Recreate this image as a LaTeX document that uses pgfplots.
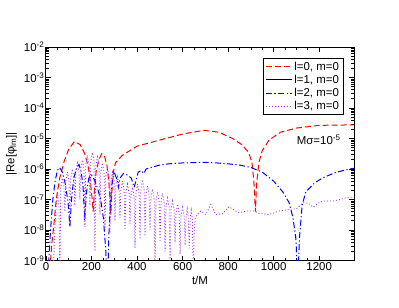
\documentclass[border=0pt]{standalone}
\usepackage{fontspec}
\setmainfont{Liberation Sans}
\usepackage{pgfplots}
\pgfplotsset{compat=1.18}
\definecolor{gviolet}{RGB}{165,45,235}
\begin{document}
\begin{tikzpicture}
\begin{axis}[
  scale only axis, width=308bp, height=213.5bp,
  xmin=0, xmax=1353, ymode=log, ymin=1e-9, ymax=1e-2,
  xtick={0,200,400,600,800,1000,1200}, minor x tick num=3,
  ytick={1e-9,1e-8,1e-7,1e-6,1e-5,1e-4,1e-3,1e-2},
  yticklabels={10\textsuperscript{-9},10\textsuperscript{-8},10\textsuperscript{-7},10\textsuperscript{-6},10\textsuperscript{-5},10\textsuperscript{-4},10\textsuperscript{-3},10\textsuperscript{-2}},
  minor ytick={2e-9,3e-9,4e-9,5e-9,6e-9,7e-9,8e-9,9e-9,
    2e-8,3e-8,4e-8,5e-8,6e-8,7e-8,8e-8,9e-8,
    2e-7,3e-7,4e-7,5e-7,6e-7,7e-7,8e-7,9e-7,
    2e-6,3e-6,4e-6,5e-6,6e-6,7e-6,8e-6,9e-6,
    2e-5,3e-5,4e-5,5e-5,6e-5,7e-5,8e-5,9e-5,
    2e-4,3e-4,4e-4,5e-4,6e-4,7e-4,8e-4,9e-4,
    2e-3,3e-3,4e-3,5e-3,6e-3,7e-3,8e-3,9e-3},
  /pgf/number format/assume math mode=true,
  /pgf/number format/1000 sep={},
  tick align=inside,
  major tick length=5bp, minor tick length=3bp,
  every tick/.style={black, line width=0.7bp},
  axis line style={line width=1bp},
  tick label style={font=\fontsize{11.5}{13}\selectfont},
  yticklabel style={inner xsep=1.5bp},
  xticklabel style={inner ysep=2bp},
  xlabel={t/M}, ylabel={|Re[φ\textsubscript{lm}]|},
  label style={font=\fontsize{11.5}{13}\selectfont},
  xlabel style={at={(axis description cs:0.5,-0.091)}, anchor=center},
  ylabel style={at={(axis description cs:-0.112,0.5)}, anchor=center},
  legend style={at={(rel axis cs:0.9653,0.947)}, anchor=north east,
    draw=black, line width=0.8bp, font=\fontsize{11.5}{13.3}\selectfont,
    inner xsep=2bp, inner ysep=1bp, row sep=-0.5bp},
  legend cell align=left,
  legend image code/.code={\draw[#1] (0bp,0bp) -- (26bp,0bp);},
]
\addplot[red, line width=1bp, dash pattern=on 6bp off 3bp] coordinates {
(15,2.5e-10)(20,1e-9)(25,3.2e-9)(35,1.6e-8)(45,1e-7)(60,5e-7)(80,1.8e-6)(100,4.5e-6)
(125,7.9e-6)(150,6.3e-6)(170,3.2e-6)(185,1.26e-6)(195,4e-7)(203,1e-7)(207,4e-8)(212,1.6e-7)
(220,7.9e-7)(232,2e-6)(245,3.2e-6)(258,2.5e-6)(268,1.26e-6)(276,4e-7)(281,1e-7)(285,3.2e-8)
(289,1.6e-7)(296,7.9e-7)(305,1.6e-6)(335,2.8e-6)(400,5.6e-6)(500,8.9e-6)(600,1.4e-5)
(695,1.86e-5)(760,1.6e-5)(820,1e-5)(860,6.3e-6)(890,3.5e-6)(905,1.6e-6)(913,4e-7)(920,4e-8)
(925,3.2e-7)(935,1.6e-6)(950,4e-6)(980,8.9e-6)(1030,1.6e-5)(1100,2.2e-5)(1200,2.7e-5)(1353,2.8e-5)
};
\addlegendentry{l=0, m=0}
\addlegendimage{black, line width=1bp}
\addlegendentry{l=1, m=0}
\addplot[blue, line width=1bp, dash pattern=on 6bp off 2.5bp on 1.2bp off 2.5bp] coordinates {
(5,3.2e-10)(12,1e-9)(20,1e-8)(30,1e-7)(40,4e-7)(50,8.9e-7)(60,1.12e-6)(72,7.9e-7)(85,3.2e-7)
(97,7.9e-8)(105,1.26e-8)(112,1e-7)(122,5e-7)(135,1.12e-6)(145,1.41e-6)(155,7.9e-7)(163,2.5e-7)
(170,2e-8)(177,1.6e-7)(188,5e-7)(200,6.3e-7)(212,4.5e-7)(225,2.5e-7)(240,1e-7)(252,2.5e-8)
(262,2.5e-9)(270,1.6e-10)(277,1e-8)(285,1.26e-7)(292,5e-7)(302,7.1e-7)(312,4.5e-7)(318,2.5e-7)
(325,5e-7)(340,7.1e-7)(358,6.3e-7)(375,5e-7)(387,2.5e-7)(395,4e-7)(405,7.9e-7)(418,8.9e-7)
(430,7.1e-7)(440,1e-6)(460,1.12e-6)(500,1.35e-6)(550,1.51e-6)(600,1.58e-6)(650,1.62e-6)
(700,1.66e-6)(750,1.58e-6)(800,1.48e-6)(850,1.35e-6)(900,1.12e-6)(950,7.9e-7)(1000,4e-7)
(1040,1.78e-7)(1068,7.9e-8)(1085,2.5e-8)(1098,5e-9)(1106,1.6e-10)(1113,5e-9)(1125,6.3e-8)
(1141,1.78e-7)(1180,3.5e-7)(1215,5.1e-7)(1270,7.6e-7)(1332,1e-6)(1353,1.05e-6)
};
\addlegendentry{l=2, m=0}
\addplot[gviolet, line width=0.8bp, dash pattern=on 1bp off 2bp] coordinates {
(30,2.5e-10)(40,1.6e-8)(46,7.9e-8)(50,1.6e-7)(57,6.3e-8)(61,3.2e-10)
(65,2.5e-7)(72,5e-7)(79,2.5e-7)(83,4e-8)(87,4e-7)(94,7.9e-7)(101,4e-7)(105,1.6e-8)
(109,5e-7)(116,1e-6)(123,5e-7)(127,6.3e-8)(131,7.9e-7)(138,1.58e-6)(145,7.9e-7)(149,1e-7)
(153,1e-6)(160,2e-6)(167,1e-6)(171,1.26e-8)(175,1.41e-6)(182,2.8e-6)(189,1.41e-6)(193,6.3e-8)
(197,1.78e-6)(204,3.5e-6)(211,1.78e-6)(215,2e-9)(219,1.26e-6)(226,2.5e-6)(233,1.26e-6)(237,3.2e-8)
(241,7.9e-7)(248,1.58e-6)(255,7.9e-7)(259,1e-8)(263,5.6e-7)(270,1.12e-6)(277,5.6e-7)(281,7.9e-9)
(285,4e-7)(292,7.9e-7)(299,4e-7)(303,2e-8)(307,2.8e-7)(314,5.6e-7)(321,2.8e-7)(325,2.5e-8)
(329,2e-7)(336,4e-7)(343,2e-7)(347,1e-8)(351,1.6e-7)(358,3.2e-7)(365,1.6e-7)(369,1.6e-8)
(373,1.26e-7)(380,2.5e-7)(387,1.26e-7)(391,2.5e-9)(395,1.6e-7)(402,3.2e-7)(409,1.6e-7)(413,5e-9)
(417,2.2e-7)(424,4.5e-7)(431,2.2e-7)(435,6.3e-9)(439,1.41e-7)(446,2.8e-7)(453,1.41e-7)(457,1e-8)
(461,1.12e-7)(468,2.2e-7)(475,1.12e-7)(479,2.5e-10)(483,8.9e-8)(490,1.78e-7)(497,8.9e-8)(501,4e-9)
(505,7.9e-8)(512,1.58e-7)(519,7.9e-8)(523,2e-9)(527,5.6e-8)(534,1.12e-7)(541,5.6e-8)(545,2.5e-10)
(549,4.5e-8)(556,8.9e-8)(563,4.5e-8)(567,4e-9)(571,3.5e-8)(578,7.1e-8)(585,3.5e-8)(589,1.6e-9)
(593,2.8e-8)(600,5.6e-8)(607,2.8e-8)(611,3.2e-9)(615,2.5e-8)(620,5e-8)(625,2.5e-8)(629,2.5e-9)
(633,2.2e-8)(638,4.5e-8)(643,2.2e-8)(647,2.5e-10)(651,1e-8)(656,2.5e-8)(668,3.5e-8)(680,4.2e-8)
(702,3.2e-8)(724,6.9e-8)(746,3.2e-8)(775,3.4e-8)(804,5.8e-8)(826,4.5e-8)(848,3.7e-8)(883,4.2e-8)
(914,4.2e-8)(936,3.5e-8)(980,3.2e-8)(1024,4.2e-8)(1068,4.7e-8)(1101,5e-8)(1130,7.9e-8)(1152,7.6e-8)
(1174,5.6e-8)(1200,7.9e-8)(1218,8.9e-8)(1262,8.9e-8)(1291,1e-7)(1321,1.15e-7)(1353,1.2e-7)
};
\addlegendentry{l=3, m=0}
\node[anchor=base west, font=\fontsize{11.5}{13}\selectfont, inner sep=0pt] at (axis cs:1101,6.2e-6) {Mσ=10\textsuperscript{-5}};
\end{axis}
\path (current axis.south west) ++(-46bp,-47.5bp) rectangle ++(399bp,308bp);
\end{tikzpicture}
\end{document}
